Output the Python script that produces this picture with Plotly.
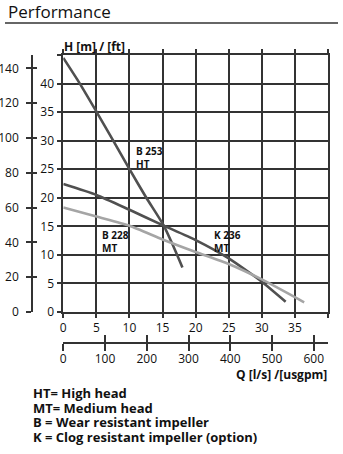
import plotly.graph_objects as go

# ---- pump curves: flow Q [l/s] vs head H [m] ----
b253_q = [0, 2.5, 5, 7.5, 10, 12.5, 15.2, 16.6, 18.0]
b253_h = [44.5, 40.0, 35.1, 30.1, 25.0, 20.1, 15.1, 11.6, 7.8]

k236_q = [0, 5, 10, 15, 20, 25, 28, 30, 33.6]
k236_h = [22.4, 20.5, 17.9, 15.2, 12.6, 9.4, 7.0, 5.3, 1.8]

b228_q = [0, 5, 10, 15, 20, 25, 30, 36.4]
b228_h = [18.3, 16.7, 15.1, 12.7, 10.5, 8.4, 5.7, 1.7]

# ---- axis ticks ----
q_ticks = [0, 5, 10, 15, 20, 25, 30, 35, 40]
q_labels = ["0", "5", "10", "15", "20", "25", "30", "35", ""]
h_ticks = [0, 5, 10, 15, 20, 25, 30, 35, 40, 45]
h_labels = ["0", "5", "10", "15", "20", "25", "30", "35", "40", ""]
ft_ticks = [0, 20, 40, 60, 80, 100, 120, 140]
gpm_ticks = [0, 100, 200, 300, 400, 500, 600]

Q_MAX, H_MAX = 40, 45
M_TO_FT = 3.28084
LS_TO_GPM = 15.8503

legend_lines = [
    "HT= High head",
    "MT= Medium head",
    "B = Wear resistant impeller",
    "K = Clog resistant impeller (option)",
]

W, H = 343, 454
ML, MR = 0, 15
PW = W - ML - MR
FONT = "Open Sans"
INK = "#333333"
DARK = "#505050"
LIGHT = "#a5a5a5"
TEXT = "#111111"


def px(x):
    return (x - ML) / PW


def py(y):
    return 1 - y / H


fig = go.Figure()

curves = [
    (b253_q, b253_h, DARK),
    (k236_q, k236_h, DARK),
    (b228_q, b228_h, LIGHT),
]
for q, h, col in curves:
    fig.add_trace(go.Scatter(
        x=q, y=h, mode="lines",
        line=dict(color=col, width=2.6, shape="spline", smoothing=0.6),
        xaxis="x", yaxis="y", hoverinfo="skip", showlegend=False,
    ))

# empty traces so that the secondary scales get their own subplots
for xa, ya in [("x", "y2"), ("x", "y3"), ("x2", "y"), ("x3", "y")]:
    fig.add_trace(go.Scatter(x=[], y=[], xaxis=xa, yaxis=ya,
                             showlegend=False, hoverinfo="skip"))

x_dom = [px(63.3), 1.0]
y_dom = [py(312), py(55)]

common = dict(
    showline=True, linecolor=INK, linewidth=1.6,
    tickcolor=INK, tickwidth=1.6, zeroline=False, automargin=False,
    tickfont=dict(family=FONT, size=12, color=TEXT), fixedrange=True,
)

fig.update_layout(
    width=W, height=H,
    margin=dict(l=ML, r=MR, t=0, b=0),
    paper_bgcolor="white", plot_bgcolor="white",
    showlegend=False,
    xaxis=dict(
        domain=x_dom, range=[0, Q_MAX], anchor="y",
        tickmode="array", tickvals=q_ticks, ticktext=q_labels,
        ticks="outside", ticklen=4, mirror="ticks",
        showgrid=True, gridcolor=INK, gridwidth=1.6,
        **common,
    ),
    yaxis=dict(
        domain=y_dom, range=[0, H_MAX], anchor="x",
        tickmode="array", tickvals=h_ticks, ticktext=h_labels,
        ticks="outside", ticklen=5, mirror=True,
        showgrid=True, gridcolor=INK, gridwidth=1.6,
        **common,
    ),
    # feet scale on the far left, ticks crossing the line
    yaxis2=dict(
        overlaying="y", anchor="free", position=px(32), side="left",
        range=[0, H_MAX * M_TO_FT],
        tickmode="array", tickvals=ft_ticks,
        ticks="outside", ticklen=5, showgrid=False, ticklabelstandoff=5,
        **common,
    ),
    yaxis3=dict(
        overlaying="y", anchor="free", position=px(32), side="left",
        range=[0, H_MAX * M_TO_FT],
        tickmode="array", tickvals=ft_ticks,
        ticks="inside", ticklen=4, showgrid=False, showticklabels=False,
        **common,
    ),
    # US gallons per minute scale under the plot, ticks crossing the line
    xaxis2=dict(
        overlaying="x", anchor="free", position=py(343), side="bottom",
        range=[0, Q_MAX * LS_TO_GPM],
        tickmode="array", tickvals=gpm_ticks,
        ticks="inside", ticklen=7, showgrid=False, ticklabelstandoff=5,
        **common,
    ),
    xaxis3=dict(
        overlaying="x", anchor="free", position=py(343), side="bottom",
        range=[0, Q_MAX * LS_TO_GPM],
        tickmode="array", tickvals=gpm_ticks,
        ticks="outside", ticklen=7, showgrid=False, showticklabels=False,
        **common,
    ),
)

annotations = [
    dict(text="Performance", x=px(6), y=py(12), xanchor="left", yanchor="middle",
         font=dict(family=FONT, size=17, color=TEXT)),
    dict(text="<b>H [m] / [ft]</b>", x=px(62), y=py(46), xanchor="left", yanchor="middle",
         font=dict(family=FONT, size=12, color=TEXT)),
    dict(text="<b>Q [l/s] /[usgpm]</b>", x=px(329), y=py(374), xanchor="right", yanchor="middle",
         font=dict(family=FONT, size=12, color=TEXT)),
]
for i, line in enumerate(legend_lines):
    annotations.append(dict(
        text="<b>" + line + "</b>", x=px(31), y=py(393 + i * 14.7),
        xanchor="left", yanchor="middle",
        font=dict(family=FONT, size=13, color=TEXT)))
for a in annotations:
    a.update(xref="paper", yref="paper", showarrow=False)

curve_labels = [
    ("B 253<br>HT", 10.7, 29.8),
    ("B 228<br>MT", 5.6, 15.1),
    ("K 236<br>MT", 22.4, 15.1),
]
for txt, xq, yh in curve_labels:
    annotations.append(dict(
        text="<b>" + txt + "</b>", x=xq, y=yh, xref="x", yref="y",
        xanchor="left", yanchor="top", align="left", showarrow=False,
        font=dict(family=FONT, size=10, color=TEXT)))

fig.update_layout(annotations=annotations)

# rule under the heading
fig.add_shape(type="line", xref="paper", yref="paper",
              x0=px(5), x1=px(338), y0=py(23), y1=py(23),
              line=dict(color=INK, width=1.5))

fig.write_html("out.html", config={"displayModeBar": False})
